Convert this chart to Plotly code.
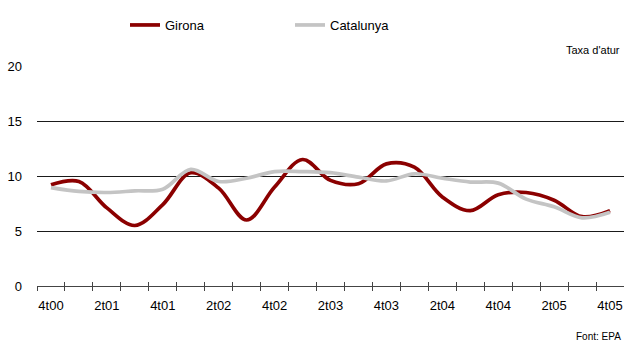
import plotly.graph_objects as go

quarters = ["4t00", "1t01", "2t01", "3t01", "4t01", "1t02", "2t02", "3t02", "4t02",
            "1t03", "2t03", "3t03", "4t03", "1t04", "2t04", "3t04", "4t04",
            "1t05", "2t05", "3t05", "4t05"]
tick_text = [q if i % 2 == 0 else "" for i, q in enumerate(quarters)]

girona = [9.2, 9.5, 7.1, 5.5, 7.4, 10.3, 8.9, 6.0, 9.0, 11.5, 9.6,
          9.3, 11.1, 10.8, 8.1, 6.85, 8.3, 8.5, 7.8, 6.3, 6.85]
catalunya = [8.95, 8.6, 8.5, 8.65, 8.8, 10.6, 9.5, 9.8, 10.4, 10.4, 10.3,
             9.9, 9.55, 10.2, 9.8, 9.45, 9.35, 7.9, 7.2, 6.2, 6.7]

W, H = 624, 345
L, R, T, B = 37, 0, 66, 59
pw = W - L - R
ph = H - T - B

def px(x):
    return (x - L) / pw

def py(y):
    return (H - B - y) / ph

fig = go.Figure()
fig.add_trace(go.Scatter(x=quarters, y=girona, name="Girona", mode="lines",
                         line=dict(color="#8B0000", width=3.7, shape="spline", smoothing=1.0),
                         xaxis="x", yaxis="y"))
fig.add_trace(go.Scatter(x=quarters, y=catalunya, name="Catalunya", mode="lines",
                         line=dict(color="#C4C4C4", width=3.7, shape="spline", smoothing=1.0),
                         xaxis="x2", yaxis="y"))

font = "Liberation Sans, Arial, sans-serif"
xcommon = dict(type="category", categoryorder="array", categoryarray=quarters,
               range=[-0.5, 20.5], tickmode="array", tickvals=quarters,
               tickson="boundaries", ticklen=4, tickwidth=1, tickcolor="#444",
               showgrid=False, zeroline=False, automargin=False, tickangle=0)
fig.update_layout(
    width=W, height=H,
    margin=dict(l=L, r=R, t=T, b=B, pad=0, autoexpand=False),
    paper_bgcolor="white", plot_bgcolor="white",
    font=dict(family=font, size=12, color="#000"),
    showlegend=True,
    legend=dict(orientation="h", x=px(125), y=py(10), xanchor="left", yanchor="top",
                entrywidth=120, entrywidthmode="pixels", itemwidth=30,
                font=dict(size=13, family=font), bgcolor="rgba(0,0,0,0)",
                tracegroupgap=0),
    xaxis=dict(**xcommon, ticktext=tick_text, ticks="outside", showline=True,
               linecolor="#444", linewidth=1, anchor="y",
               tickfont=dict(size=13, family=font), ticklabelstandoff=7),
    xaxis2=dict(**xcommon, ticktext=[""] * len(quarters), ticks="inside",
                showline=False, overlaying="x", anchor="y", showticklabels=False),
    yaxis=dict(range=[0, 20], tickmode="array", tickvals=[0, 5, 10, 15, 20],
               showgrid=True, gridcolor="#1a1a1a", gridwidth=1, zeroline=False,
               ticks="", tickfont=dict(size=13, family=font), ticklabelstandoff=14,
               showline=False, automargin=False),
    annotations=[
        dict(text="Taxa d'atur", x=px(622), y=py(50), xref="paper", yref="paper",
             xanchor="right", yanchor="middle", showarrow=False,
             font=dict(size=11, family=font)),
        dict(text="Font: EPA", x=px(623), y=py(336), xref="paper", yref="paper",
             xanchor="right", yanchor="middle", showarrow=False,
             font=dict(size=10, family=font)),
    ],
)

fig.write_html("out.html", config={"displayModeBar": False},
               post_script="document.body.style.margin='0';document.body.style.overflow='hidden';")
